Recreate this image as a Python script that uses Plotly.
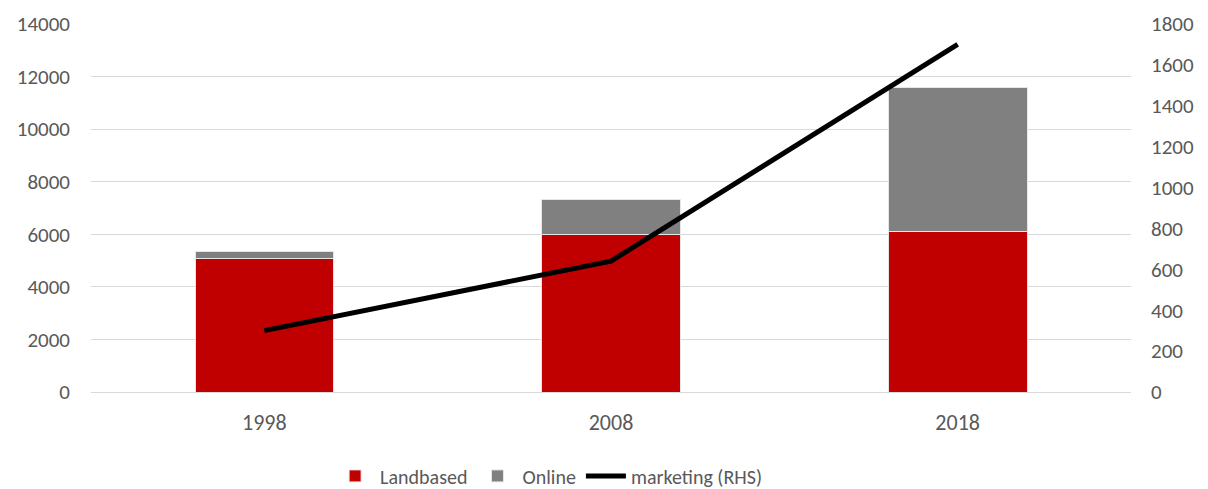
import plotly.graph_objects as go

years = ["1998", "2008", "2018"]
landbased = [5070, 6000, 6100]
online = [270, 1340, 5500]
marketing = [300, 640, 1700]

font_family = "Carlito, Calibri, Lato, sans-serif"
text_color = "#595959"

fig = go.Figure()
fig.add_trace(go.Bar(x=years, y=landbased, name="Landbased",
                     marker=dict(color="#c00000", line=dict(color="#e6e6e6", width=1))))
fig.add_trace(go.Bar(x=years, y=online, name="Online",
                     marker=dict(color="#808080", line=dict(color="#e6e6e6", width=1))))
fig.add_trace(go.Scatter(x=years, y=marketing, name="marketing (RHS)", mode="lines",
                         line=dict(color="black", width=5), yaxis="y2"))

fig.update_layout(
    width=1200, height=481,
    barmode="stack", bargap=0.6,
    plot_bgcolor="white", paper_bgcolor="white",
    margin=dict(l=83, r=77, t=16, b=97, autoexpand=False),
    font=dict(family=font_family, size=21, color=text_color),
    xaxis=dict(showgrid=False, showline=True, linecolor="#d9d9d9", linewidth=1,
               ticks="", tickfont=dict(size=22, color=text_color), automargin=False,
               ticklabelstandoff=11),
    yaxis=dict(range=[0, 14000], dtick=2000, tickformat="d", showgrid=True,
               gridcolor="#d9d9d9", gridwidth=1, zeroline=False,
               tickfont=dict(size=21, color=text_color), ticklabelstandoff=20,
               automargin=False),
    yaxis2=dict(range=[0, 1800], dtick=200, tickformat="d", overlaying="y", side="right",
                showgrid=False, zeroline=False, tickfont=dict(size=21, color=text_color),
                ticklabelstandoff=19, automargin=False),
    legend=dict(orientation="h", x=0.44, xanchor="center", y=-0.228, yanchor="middle",
                font=dict(size=20, color=text_color), itemwidth=40, traceorder="normal"),
    showlegend=True,
)

fig.write_html("out.html")
